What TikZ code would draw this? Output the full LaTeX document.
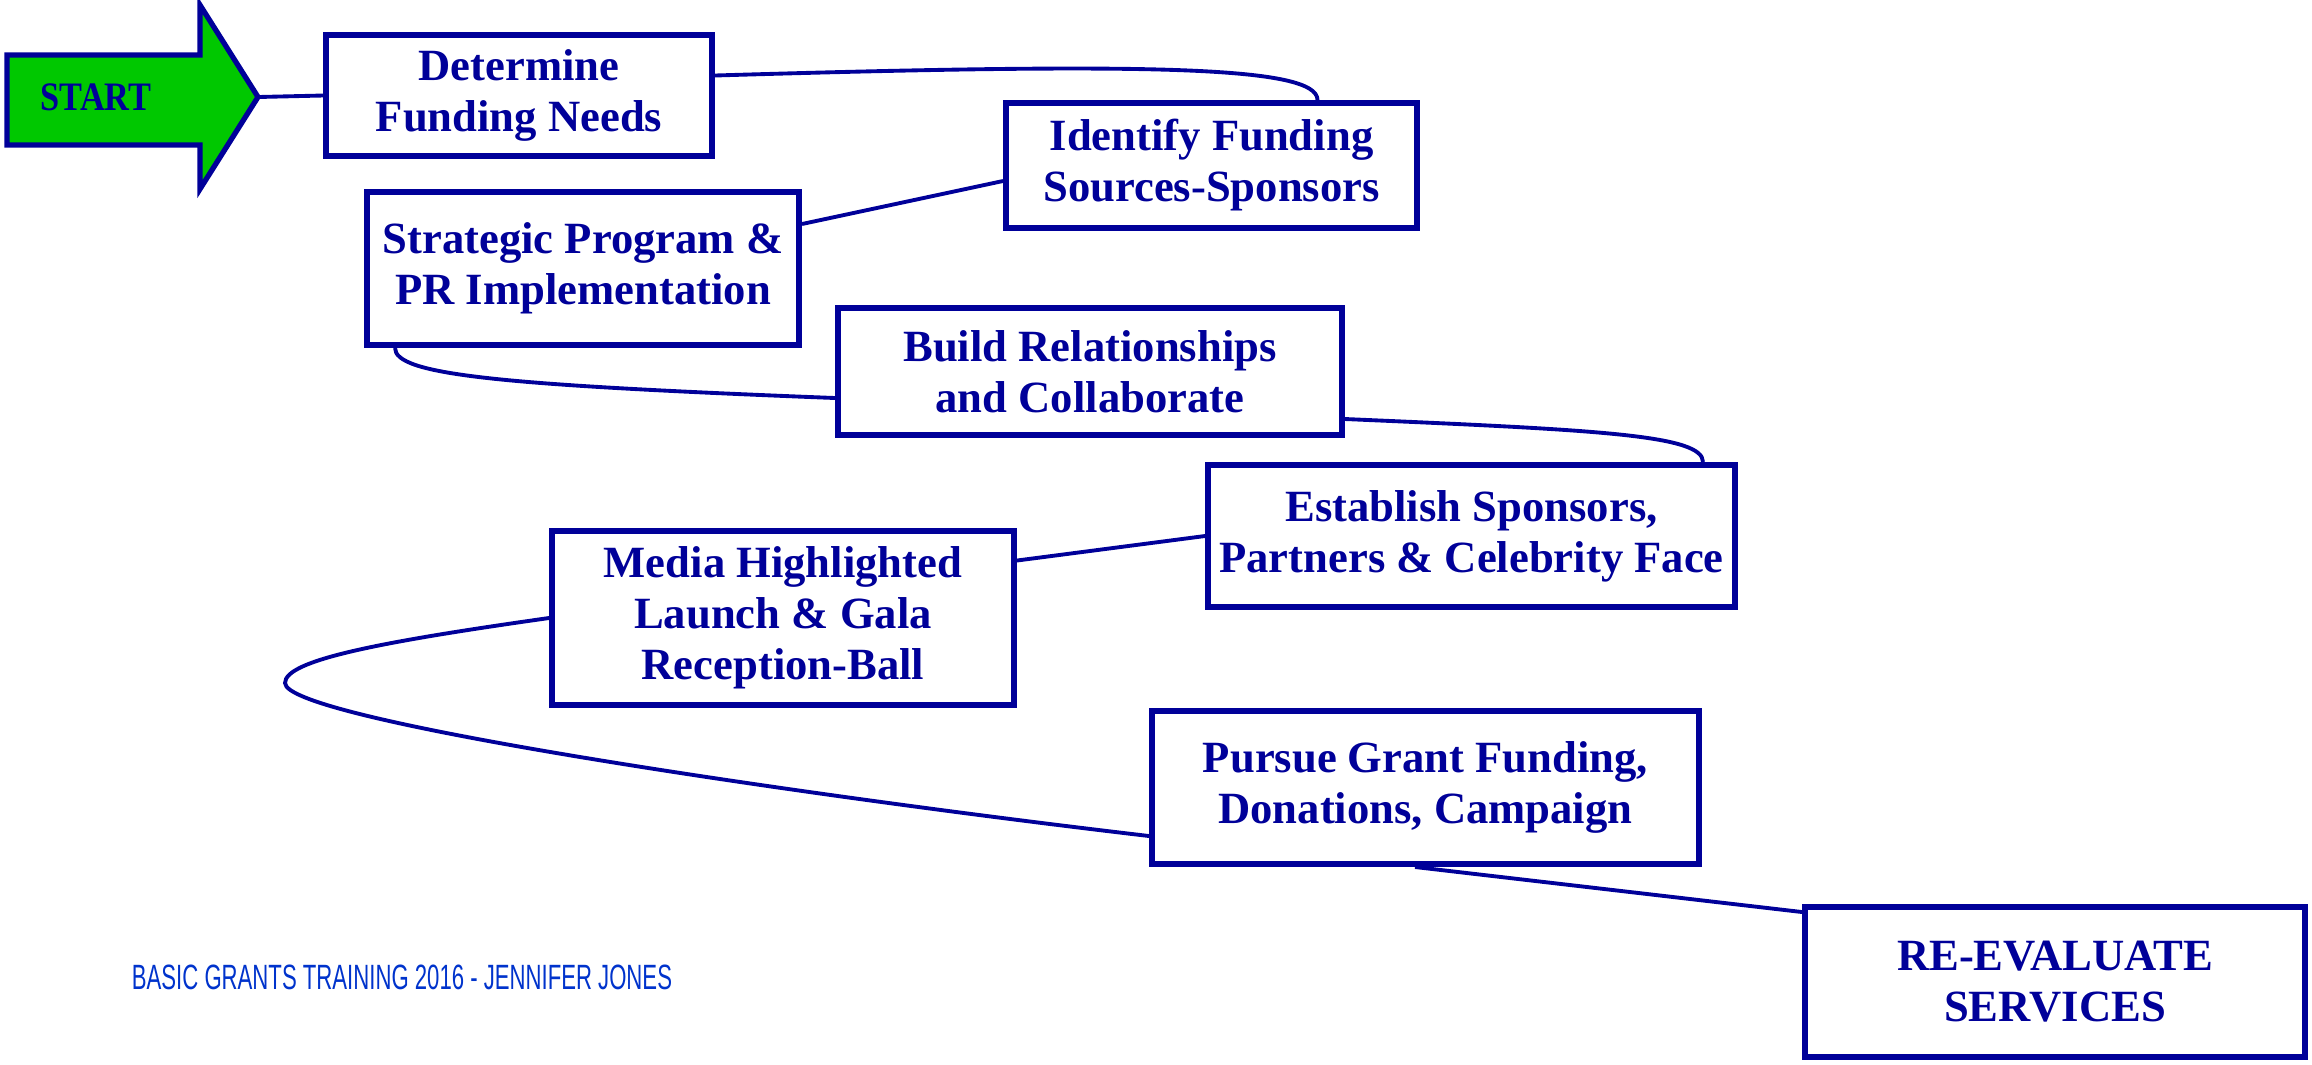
\documentclass[tikz,border=0pt]{standalone}
\usepackage{fontspec}
\newfontfamily\boxfont{Liberation Serif}
\newfontfamily\footfont[FakeStretch=0.63]{Liberation Sans}
\newfontfamily\startfont[FakeStretch=0.85]{Liberation Serif}
\definecolor{boxblue}{RGB}{0,0,153}
\definecolor{footblue}{RGB}{0,51,204}
\definecolor{startgreen}{RGB}{0,200,0}

\begin{document}
\begin{tikzpicture}[line width=1.1pt,
fundbox/.style={draw=boxblue,rectangle,inner sep=0pt,line width=1.7pt,fill=white,text=boxblue,align=center,font=\boxfont\bfseries\fontsize{12.7}{14.5}\selectfont},
link/.style={draw=boxblue,line width=1.1pt}]

\useasboundingbox (0,0) rectangle (23.12,-10.64);

\draw[draw=boxblue,fill=startgreen,line width=1.5pt] (0.07,-0.55) -- (2.0,-0.55) -- (2.0,-0.05) -- (2.58,-0.97) -- (2.0,-1.89) -- (2.0,-1.45) -- (0.07,-1.45) -- cycle;
\coordinate (tip) at (2.58,-0.97);
\draw (0.96,-0.97) node[text=boxblue,font=\startfont\bfseries\fontsize{11.5}{13}\selectfont] (start) {START};

\draw (5.19,-0.955) node[fundbox,minimum width=3.86cm,minimum height=1.21cm] (need) {Determine\\Funding Needs};
\draw (12.115,-1.655) node[fundbox,minimum width=4.11cm,minimum height=1.25cm] (source) {Identify Funding\\Sources-Sponsors};
\draw (5.83,-2.685) node[fundbox,minimum width=4.32cm,minimum height=1.53cm] (strategy) {Strategic Program \&\\PR Implementation};
\draw (10.90,-3.715) node[fundbox,minimum width=5.04cm,minimum height=1.27cm] (relate) {Build Relationships\\and Collaborate};
\draw (14.715,-5.36) node[fundbox,minimum width=5.27cm,minimum height=1.42cm] (sponsor) {Establish Sponsors,\\Partners \& Celebrity Face};
\draw (7.83,-6.18) node[fundbox,minimum width=4.62cm,minimum height=1.74cm] (media) {Media Highlighted\\Launch \& Gala\\Reception-Ball};
\draw (14.255,-7.875) node[fundbox,minimum width=5.47cm,minimum height=1.53cm] (pursue) {Pursue Grant Funding,\\Donations, Campaign};
\draw (20.55,-9.82) node[fundbox,minimum width=5.0cm,minimum height=1.5cm] (review) {RE-EVALUATE\\SERVICES};

\draw (1.30,-9.77) node[anchor=west,inner sep=0pt,text=footblue,font=\footfont\fontsize{10}{12}\selectfont] (credit) {BASIC GRANTS TRAINING 2016 - JENNIFER JONES};

\coordinate (loop) at (2.85,-6.83);

\draw[link] (tip) -- (need.west);
\draw[link] ([yshift=0.2cm]need.east) .. controls +(4.35,0.13) and +(0,0.34) .. ([xshift=1.06cm]source.north);
\draw[link] ([yshift=0.445cm]strategy.east) -- ([yshift=-0.155cm]source.west);
\draw[link] ([xshift=-1.88cm]strategy.south) .. controls +(0,-0.27) and +(-3.35,0.13) .. ([yshift=-0.265cm]relate.west);
\draw[link] ([yshift=-0.475cm]relate.east) .. controls +(2.55,-0.11) and +(0,0.27) .. ([xshift=2.315cm]sponsor.north);
\draw[link] ([yshift=0.575cm]media.east) -- (sponsor.west);
\draw[link] (media.west) .. controls +(-1.69,-0.24) and +(0,0.23) .. (loop) .. controls +(0,-0.37) and +(-3.49,0.41) .. ([yshift=-0.485cm]pursue.west);
\draw[link] ([xshift=-0.105cm]pursue.south) -- ([yshift=-0.08cm]review.north west);

\end{tikzpicture}
\end{document}
